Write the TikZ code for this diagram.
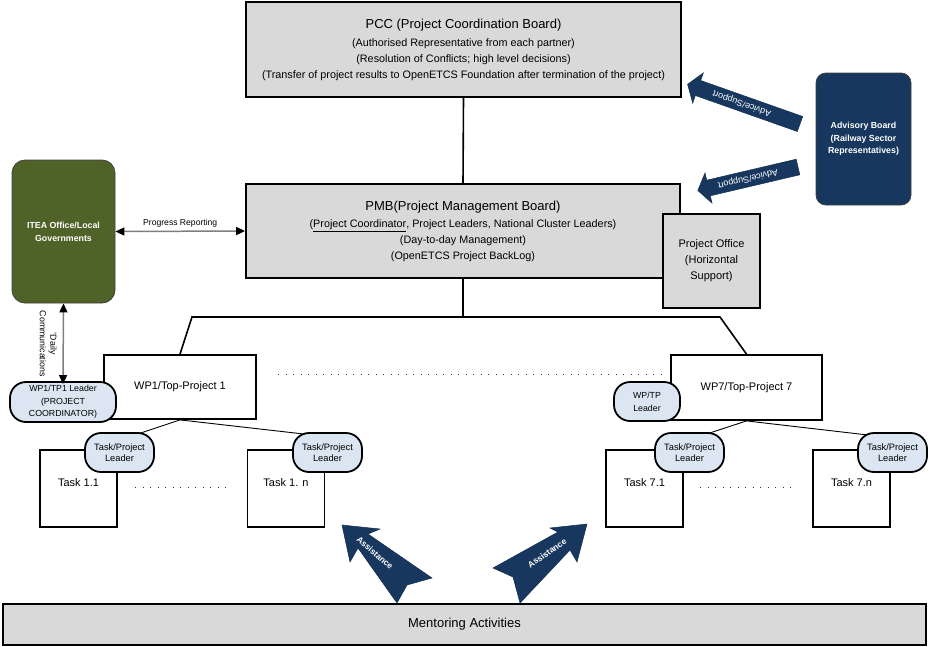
\documentclass[tikz,border=0pt]{standalone}
\usepackage{fontspec}
\setmainfont{Liberation Sans}
\usetikzlibrary{arrows.meta,shapes.misc,calc}
\definecolor{boxgrey}{HTML}{D9D9D9}
\definecolor{navy}{HTML}{17375E}
\definecolor{olive}{HTML}{4F6228}
\definecolor{pillblue}{HTML}{DCE6F2}
\definecolor{linegrey}{HTML}{7F7F7F}
\pgfdeclarelayer{bg}
\pgfsetlayers{bg,main}
\tikzset{
  greybox/.style={draw=black, line width=1.8pt, fill=boxgrey, inner sep=0pt, align=center},
  wpbox/.style={draw=black, line width=1.8pt, fill=white, inner sep=0pt, align=center, font={\fontsize{11}{13}\selectfont}},
  taskbox/.style={draw=black, line width=1.6pt, fill=white, inner sep=0pt, align=center, minimum width=77pt, minimum height=77pt, text height=8pt, text depth=13pt, font={\fontsize{11}{13}\selectfont}},
  pill/.style={draw=black, line width=1.8pt, fill=pillblue, rounded corners=16pt, inner sep=0pt, align=center},
  darkbox/.style={draw=black!75, line width=0.8pt, rounded corners=13pt, inner sep=0pt, align=center, text=white, font={\bfseries\fontsize{8.8}{13}\selectfont}},
  conn/.style={draw=black, line width=1.6pt},
  thinconn/.style={draw=black, line width=0.9pt},
  dotline/.style={draw=black!80, line width=0.9pt, dash pattern=on 0.9pt off 6.6pt},
  twoway/.style={draw=linegrey, line width=1.5pt, {Triangle[length=9pt,width=8pt,color=black,fill=black]}-{Triangle[length=9pt,width=8pt,color=black,fill=black]}},
  blockarrow/.style={fill=navy, draw=navy!85!black, line width=0.5pt},
  arrowtext/.style={text=white, inner sep=0pt},
}
\begin{document}
\begin{tikzpicture}[x=1pt,y=-1pt]
\useasboundingbox (0,0) rectangle (929,646);

% Main boards
\node[greybox, minimum width=435pt, minimum height=95pt, font={\fontsize{10.8}{16}\selectfont}] (pcc) at (463.5,49.5)
 {{\fontsize{13}{15}\selectfont PCC (Project Coordination Board)}\\[2pt]
  (Authorised Representative from each partner)\\
  (Resolution of Conflicts; high level decisions)\\
  (Transfer of project results to OpenETCS Foundation after termination of the project)};

\node[greybox, minimum width=434pt, minimum height=94pt, font={\fontsize{10.8}{16}\selectfont}] (pmb) at (463,231)
 {{\fontsize{13}{15}\selectfont PMB(Project Management Board)}\\[1pt]
  (\underline{Project Coordinator}, Project Leaders, National Cluster Leaders)\\
  (Day-to-day Management)\\
  (OpenETCS Project BackLog)};

\node[greybox, minimum width=97pt, minimum height=94pt, font={\fontsize{11}{16}\selectfont}] (po) at (711.5,261)
 {Project Office\\(Horizontal\\Support)};

% Side boxes
\node[darkbox, fill=olive, minimum width=103pt, minimum height=143pt] (itea) at (63.5,231.5)
 {ITEA Office/Local\\Governments};
\node[darkbox, fill=navy, rounded corners=10pt, minimum width=95pt, minimum height=132pt, font={\bfseries\fontsize{8.8}{12.5}\selectfont}] (adv) at (863.5,139)
 {Advisory Board\\(Railway Sector\\Representatives)};

% Work packages
\node[wpbox, minimum width=152pt, minimum height=64pt] (wp1) at (180,387) {WP1/Top-Project 1};
\node[wpbox, minimum width=151pt, minimum height=65pt] (wp7) at (746.5,387.5) {WP7/Top-Project 7};
\node[pill, minimum width=106pt, minimum height=40pt, font={\fontsize{8.8}{12.5}\selectfont}] (wp1l) at (63,402)
 {WP1/TP1 Leader\\(PROJECT\\COORDINATOR)};
\node[pill, minimum width=66pt, minimum height=39pt, font={\fontsize{8.8}{13}\selectfont}] (wp7l) at (647,401.5)
 {WP/TP\\Leader};

% Tasks
\node[taskbox] (t11) at (78.5,488.5) {Task 1.1};
\node[taskbox] (t1n) at (286,488.5) {Task 1. n};
\node[taskbox] (t71) at (644.5,488.5) {Task 7.1};
\node[taskbox] (t7n) at (851.5,488.5) {Task 7.n};
\node[pill, minimum width=69pt, minimum height=39pt, font={\fontsize{9.3}{11.5}\selectfont}] (t11p) at (119.5,452.5) {Task/Project\\Leader};
\node[pill, minimum width=69pt, minimum height=39pt, font={\fontsize{9.3}{11.5}\selectfont}] (t1np) at (327.5,452.5) {Task/Project\\Leader};
\node[pill, minimum width=69pt, minimum height=39pt, font={\fontsize{9.3}{11.5}\selectfont}] (t71p) at (689.5,452.5) {Task/Project\\Leader};
\node[pill, minimum width=69pt, minimum height=39pt, font={\fontsize{9.3}{11.5}\selectfont}] (t7np) at (892.5,452.5) {Task/Project\\Leader};

% Mentoring
\node[greybox, line width=1.6pt, minimum width=923pt, minimum height=41pt, font={\fontsize{13}{15}\selectfont}] (ment) at (464.5,624.5) {Mentoring Activities};

% Connectors
\coordinate (hl) at (192,317);
\coordinate (hr) at (720,317);
\coordinate (hm) at (pmb.south |- hl);
\begin{pgfonlayer}{bg}
\draw[conn] (pcc.south) -- (pmb.north);
\draw[conn] (pmb.south) -- (hm);
\draw[conn] (wp1.north) -- (hl) -- (hr) -- (wp7.north);
\draw[thinconn] (wp1.south) -- ([xshift=15pt,yshift=-3pt]t11p.north);
\draw[thinconn] (wp1.south) -- ([xshift=-17.5pt,yshift=-2.6pt]t1np.north);
\draw[thinconn] (wp7.south) -- ([xshift=15pt,yshift=-2.6pt]t71p.north);
\draw[thinconn] (wp7.south) -- ([xshift=-12.5pt,yshift=-4.3pt]t7np.north);
\end{pgfonlayer}

\draw[twoway] (itea.east) -- node[above=2pt, font={\fontsize{8.6}{10}\selectfont}, inner sep=1pt] {Progress Reporting} (pmb.west);
\draw[twoway] (itea.south) -- node[midway, xshift=-15pt, rotate=-90, align=center, inner sep=0pt, font={\fontsize{8.8}{10.5}\selectfont}] {'Daily\\Communications} ([yshift=-3pt]wp1l.north);

% Dotted lines
\coordinate (d1a) at (278,374); \coordinate (d1b) at (661,374);
\coordinate (d2a) at (135,487); \coordinate (d2b) at (231,487);
\coordinate (d3a) at (700,487); \coordinate (d3b) at (796,487);
\draw[dotline] (d1a) -- (d1b);
\draw[dotline] (d2a) -- (d2b);
\draw[dotline] (d3a) -- (d3b);

% Advice/Support block arrows
\draw[blockarrow] (802.7,116.5) -- (700.7,80.5) -- (703.3,72.9) -- (687.6,84.3) -- (692.7,103.1) -- (695.3,95.5) -- (797.3,131.5) -- cycle;
\node[arrowtext, rotate=160.5, font={\fontsize{9}{10}\selectfont}] (adv1) at (742,103.5) {Advice/Support};
\draw[blockarrow] (796.2,159.2) -- (706.7,180.2) -- (705,172.9) -- (697.8,190.5) -- (712,203.1) -- (710.3,195.8) -- (799.8,174.8) -- cycle;
\node[arrowtext, rotate=193.2, font={\fontsize{9}{10}\selectfont}] (adv2) at (748,178.6) {Advice/Support};

% Assistance arrows
\draw[blockarrow] (342,525) -- (380,529) -- (368,534) -- (432,578) -- (407,585) -- (397,603) -- (358,548) -- (350,562) -- cycle;
\node[arrowtext, rotate=-41, font={\bfseries\fontsize{8.5}{9}\selectfont}] (as1) at (375,553) {Assistance};
\draw[blockarrow] (587,524) -- (550,528) -- (558,532) -- (493,568) -- (513,577) -- (520,603) -- (570,550) -- (577,562) -- cycle;
\node[arrowtext, rotate=35, font={\bfseries\fontsize{8.5}{9}\selectfont}] (as2) at (547,553) {Assistance};

\end{tikzpicture}
\end{document}
